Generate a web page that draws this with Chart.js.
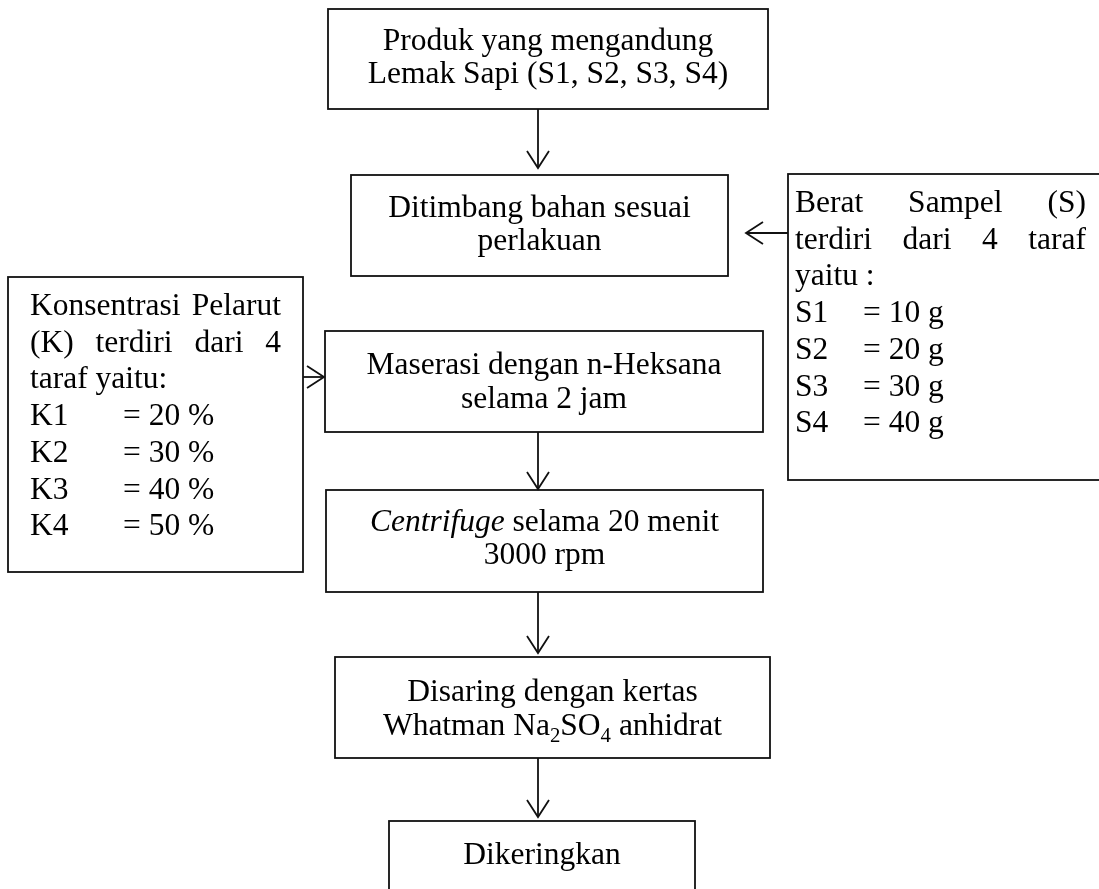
<!DOCTYPE html>
<html>
<head>
<meta charset="utf-8">
<script src="https://cdn.jsdelivr.net/npm/chart.js@4.4.1/dist/chart.umd.min.js"></script>
<style>
  html, body { margin: 0; padding: 0; background: #fff; }
  #wrap { width: 1099px; height: 889px; position: relative; }
</style>
</head>
<body>
<div id="wrap"><canvas id="flowChart"></canvas></div>
<script>
// langkah-langkah utama (teks di dalam kotak tengah)
// _..._ = miring, ~..~ = subskrip
const stepLabels = [
  ["Produk yang mengandung", "Lemak Sapi (S1, S2, S3, S4)"],
  ["Ditimbang bahan sesuai", "perlakuan"],
  ["Maserasi dengan n-Heksana", "selama 2 jam"],
  ["_Centrifuge_ selama 20 menit", "3000 rpm"],
  ["Disaring dengan kertas", "Whatman Na~2~SO~4~ anhidrat"],
  ["Dikeringkan"],
];

// faktor perlakuan
const solventIntro = ["Konsentrasi Pelarut", "(K) terdiri dari 4", "taraf yaitu:"];
const solventCodes = ["K1", "K2", "K3", "K4"];
const solventValues = ["= 20 %", "= 30 %", "= 40 %", "= 50 %"];

const sampleIntro = ["Berat Sampel (S)", "terdiri dari 4 taraf", "yaitu :"];
const sampleCodes = ["S1", "S2", "S3", "S4"];
const sampleValues = ["= 10 g", "= 20 g", "= 30 g", "= 40 g"];

// tata letak (satuan sumbu)
const stepBoxes = [
  { x0: 328, y0: 9, x1: 768, y1: 109, rows: [40, 73] },
  { x0: 351, y0: 175, x1: 728, y1: 276, rows: [207, 240] },
  { x0: 325, y0: 331, x1: 763, y1: 432, rows: [364, 398] },
  { x0: 326, y0: 490, x1: 763, y1: 592, rows: [521, 554] },
  { x0: 335, y0: 657, x1: 770, y1: 758, rows: [691, 725] },
  { x0: 389, y0: 821, x1: 695, y1: 905, rows: [854] },
];
const sideBoxes = [
  { x0: 8, y0: 277, x1: 303, y1: 572, tx0: 30, tx1: 281, valX: 123, base: 315,
    intro: solventIntro, codes: solventCodes, values: solventValues },
  { x0: 788, y0: 174, x1: 1112, y1: 480, tx0: 795, tx1: 1086, valX: 863, base: 212,
    intro: sampleIntro, codes: sampleCodes, values: sampleValues },
];
const arrows = [
  [538, 109, 538, 168],
  [788, 233, 746, 233],
  [303, 377, 324, 377],
  [538, 432, 538, 489],
  [538, 592, 538, 653],
  [538, 758, 538, 817],
];

const FONT = '"Liberation Serif", "Times New Roman", serif';
const SIZE = 31.5;
const ROW_GAP = 36.7;

function parseRuns(str) {
  const runs = [];
  const re = /_([^_]+)_|~([^~]+)~|([^_~]+)/g;
  let m;
  while ((m = re.exec(str))) {
    if (m[1]) runs.push({ t: m[1], italic: true });
    else if (m[2]) runs.push({ t: m[2], sub: true });
    else runs.push({ t: m[3] });
  }
  return runs;
}

function runFont(r, size) {
  return (r.italic ? "italic " : "") + (r.sub ? size * 0.66 : size) + "px " + FONT;
}

function drawCentered(ctx, str, cx, baseline, size) {
  const runs = parseRuns(str);
  let total = 0;
  runs.forEach((r) => {
    ctx.font = runFont(r, size);
    r.w = ctx.measureText(r.t).width;
    total += r.w;
  });
  let x = cx - total / 2;
  runs.forEach((r) => {
    ctx.font = runFont(r, size);
    ctx.fillText(r.t, x, baseline + (r.sub ? size * 0.22 : 0));
    x += r.w;
  });
}

function drawJustified(ctx, str, x0, x1, baseline) {
  const words = str.split(" ");
  const widths = words.map((w) => ctx.measureText(w).width);
  const sum = widths.reduce((a, b) => a + b, 0);
  const gap = (x1 - x0 - sum) / (words.length - 1);
  let x = x0;
  words.forEach((w, i) => {
    ctx.fillText(w, x, baseline);
    x += widths[i] + gap;
  });
}

function arrowHead(ctx, x0, y0, x1, y1) {
  const ang = Math.atan2(y1 - y0, x1 - x0);
  const len = 17, half = 11;
  const bx = x1 - len * Math.cos(ang), by = y1 - len * Math.sin(ang);
  const nx = -Math.sin(ang) * half, ny = Math.cos(ang) * half;
  ctx.beginPath();
  ctx.moveTo(bx + nx, by + ny);
  ctx.lineTo(x1, y1);
  ctx.lineTo(bx - nx, by - ny);
  ctx.stroke();
}

const flowPlugin = {
  id: "flowPlugin",
  afterDraw(chart) {
    const ctx = chart.ctx;
    const sx = chart.scales.x;
    const sy = chart.scales.y;
    const px = (v) => sx.getPixelForValue(v);
    const py = (v) => sy.getPixelForValue(v);

    ctx.save();
    ctx.strokeStyle = "#111";
    ctx.lineWidth = 1.8;
    ctx.fillStyle = "#000";
    ctx.textAlign = "left";
    ctx.textBaseline = "alphabetic";

    // kotak langkah utama
    stepBoxes.forEach((b, i) => {
      ctx.strokeRect(px(b.x0), py(b.y0), px(b.x1) - px(b.x0), py(b.y1) - py(b.y0));
      const cx = (px(b.x0) + px(b.x1)) / 2;
      stepLabels[i].forEach((line, j) => {
        drawCentered(ctx, line, cx, py(b.rows[j]) + 10, SIZE);
      });
    });

    // kotak faktor di samping
    sideBoxes.forEach((b) => {
      ctx.strokeRect(px(b.x0), py(b.y0), px(b.x1) - px(b.x0), py(b.y1) - py(b.y0));
      ctx.font = SIZE + "px " + FONT;
      b.intro.forEach((line, j) => {
        const base = py(b.base + j * ROW_GAP);
        if (j < b.intro.length - 1) drawJustified(ctx, line, px(b.tx0), px(b.tx1), base);
        else ctx.fillText(line, px(b.tx0), base);
      });
      b.codes.forEach((code, k) => {
        const base = py(b.base + (b.intro.length + k) * ROW_GAP);
        ctx.fillText(code, px(b.tx0), base);
        ctx.fillText(b.values[k], px(b.valX), base);
      });
    });

    // panah
    arrows.forEach((a) => {
      ctx.beginPath();
      ctx.moveTo(px(a[0]), py(a[1]));
      ctx.lineTo(px(a[2]), py(a[3]));
      ctx.stroke();
      arrowHead(ctx, px(a[0]), py(a[1]), px(a[2]), py(a[3]));
    });
    ctx.restore();
  },
};

const flowChart = new Chart(document.getElementById("flowChart"), {
  type: "scatter",
  data: { datasets: [{ data: [], pointRadius: 0 }] },
  options: {
    responsive: true,
    maintainAspectRatio: false,
    animation: false,
    events: [],
    layout: { padding: 0 },
    plugins: { legend: { display: false }, tooltip: { enabled: false } },
    scales: {
      x: { type: "linear", min: 0, max: 1099, display: false },
      y: { type: "linear", min: 0, max: 889, reverse: true, display: false },
    },
  },
  plugins: [flowPlugin],
});
</script>
</body>
</html>
